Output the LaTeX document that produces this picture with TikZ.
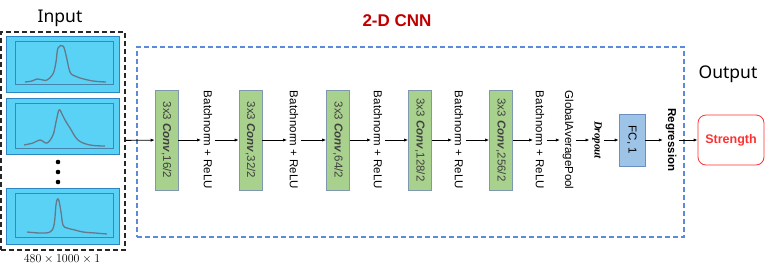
\documentclass[tikz,border=0pt]{standalone}
\usepackage{fontspec}
\setmainfont{Liberation Sans}
\newfontfamily\headfont{Noto Sans}
\newfontfamily\serifit{Liberation Serif}
\usepackage{xcolor}
\definecolor{convgreen}{HTML}{A9D18E}
\definecolor{convedge}{HTML}{7F98B0}
\definecolor{fcblue}{HTML}{9DC3E6}
\definecolor{fcedge}{HTML}{6A8FC0}
\definecolor{cnnblue}{HTML}{5B8BD6}
\definecolor{cnnred}{HTML}{C00000}
\definecolor{panelcyan}{HTML}{5AD2F6}
\definecolor{paneledge}{HTML}{2E86C1}
\definecolor{plotgray}{HTML}{66788A}
\definecolor{outred}{HTML}{FF3030}
\usepackage{tikz}
\usetikzlibrary{positioning, arrows.meta}

\begin{document}
\begin{tikzpicture}[
  x=1pt, y=-1pt,
  font=\fontsize{11.5}{13}\selectfont,
  conv/.style={draw=convedge, fill=convgreen, rotate=-90, minimum width=100pt,
               minimum height=23pt, inner sep=1pt, text=black!75, line width=0.6pt},
  layer/.style={rotate=-90, inner sep=2.5pt},
  fc/.style={draw=fcedge, fill=fcblue, rotate=-90, minimum width=52pt,
             minimum height=26pt, inner sep=1pt, line width=0.6pt},
  outbox/.style={draw=outred, fill=white, rounded corners=8pt, line width=0.8pt,
                 minimum width=66pt, minimum height=50pt, text=outred,
                 font=\bfseries\fontsize{12.5}{14}\selectfont},
  inbox/.style={draw=black!85, dash pattern=on 5pt off 3pt, line width=1.8pt,
                minimum width=124pt, minimum height=218pt, inner sep=0pt},
  cnnbox/.style={draw=cnnblue, dash pattern=on 5pt off 3pt, line width=1.2pt,
                 minimum width=547pt, minimum height=190pt, inner sep=0pt},
  panel/.style={draw=paneledge, fill=panelcyan, line width=0.8pt,
                minimum width=113pt, minimum height=56pt, inner sep=0pt},
  frame/.style={draw=paneledge!70!gray, line width=0.5pt},
  spec/.style={draw=plotgray, line width=1.3pt},
  title/.style={font=\headfont\fontsize{17.5}{20}\selectfont},
  arr/.style={-{Latex[length=4pt, width=3.2pt]}, line width=0.8pt}
]
\useasboundingbox (0,0) rectangle (769,269);

% input stack
\node[inbox] (inp) at (63,141) {};
\node[title] (intitle) at (60,18) {Input};
\node[panel] (p1) at (62.5,64) {};
\node[panel] (p2) at (62.5,126.5) {};
\node[panel] (p3) at (62.5,216.5) {};
\draw[frame] (15,41) rectangle (113,84);
\draw[frame] (15,103) rectangle (113,148);
\draw[frame] (15,193) rectangle (113,237);
\draw[spec] plot[smooth, tension=0.6] coordinates {(25,82) (32,81) (37,79) (43,80)
  (47,80) (53,74) (56,62) (58,48) (63,46) (66,55) (70,72) (75,76) (80,78) (93,81) (106,82)};
\draw[spec] plot[smooth, tension=0.6] coordinates {(24,145) (33,143) (40,140) (47,143)
  (53,135) (56,122) (59,110) (62,114) (65,120) (70,128) (78,140) (90,145) (105,146)};
\draw[spec] plot[smooth, tension=0.6] coordinates {(27,232) (40,233) (50,232) (54,225)
  (56,205) (57.5,199) (59,201) (61,212) (63,225) (67,228) (75,230) (83,232) (95,233) (107,234)};
\foreach \dy in {162,172,182} \fill (58,\dy) circle (2.3pt);
\node (dims) at (62,259) {\fontsize{12}{14}\selectfont$480\times1000\times1$};

% 2-D CNN
\node[cnnbox] (cnn) at (410.5,142) {};
\node[font=\bfseries\fontsize{17}{20}\selectfont, text=cnnred] (cnntitle) at (397,21) {2-D CNN};

\node[conv] (c1) at (166.5,140) {3x3 \textbf{\textit{Conv}},16/2};
\node[layer] (b1) at (208,140) {Batchnorm + ReLU};
\node[conv] (c2) at (250.5,140) {3x3 \textbf{\textit{Conv}},32/2};
\node[layer] (b2) at (294,140) {Batchnorm + ReLU};
\node[conv] (c3) at (338,140) {3x3 \textbf{\textit{Conv}},64/2};
\node[layer] (b3) at (378,140) {Batchnorm + ReLU};
\node[conv] (c4) at (420,140) {3x3 \textbf{\textit{Conv}},128/2};
\node[layer] (b4) at (459,140) {Batchnorm + ReLU};
\node[conv] (c5) at (501,140) {3x3 \textbf{\textit{Conv}},256/2};
\node[layer] (b5) at (540,140) {Batchnorm + ReLU};
\node[layer] (gap) at (568,140) {GlobalAveragePool};
\node[layer, font=\serifit\bfseries\itshape\fontsize{11}{13}\selectfont] (drop) at (597,140) {Dropout};
\node[fc] (fc) at (632,140) {FC, 1};
\node[layer, font=\bfseries\fontsize{11.5}{13}\selectfont] (reg) at (671,140) {Regression};

% output
\node[title] (outtitle) at (728,74) {Output};
\node[outbox] (str) at (731,140) {Strength};

\draw[arr] (inp) -- (c1);
\draw[arr] (c1) -- (b1);
\draw[arr] (b1) -- (c2);
\draw[arr] (c2) -- (b2);
\draw[arr] (b2) -- (c3);
\draw[arr] (c3) -- (b3);
\draw[arr] (b3) -- (c4);
\draw[arr] (c4) -- (b4);
\draw[arr] (b4) -- (c5);
\draw[arr] (c5) -- (b5);
\draw[arr] (b5) -- (gap);
\draw[arr] (gap) -- (drop);
\draw[arr] (drop) -- (fc);
\draw[arr] (fc) -- (reg);
\draw[arr] (reg) -- (str);
\end{tikzpicture}
\end{document}
